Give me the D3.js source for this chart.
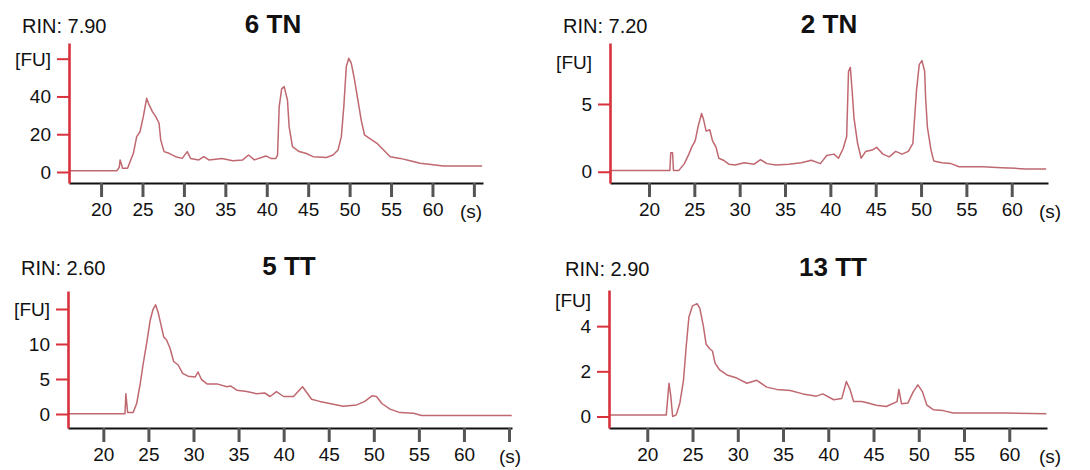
<!DOCTYPE html>
<html>
<head>
<meta charset="utf-8">
<script src="https://cdn.jsdelivr.net/npm/d3@7"></script>
<style>
  html, body { margin: 0; padding: 0; background: #fff; }
  svg { display: block; }
  text { font-family: "Liberation Sans", Arial, sans-serif; fill: #111; }
</style>
</head>
<body>
<svg id="chart" width="1090" height="470"></svg>
<script>
// ---------- DATA ----------
const sampleNames = ["6 TN", "2 TN", "5 TT", "13 TT"];
const rinLabels = ["RIN: 7.90", "RIN: 7.20", "RIN: 2.60", "RIN: 2.90"];
const xTickValues = [20, 25, 30, 35, 40, 45, 50, 55, 60, 65];

const tn6Time = [16.1, 21.9, 22.2, 22.3, 22.6, 23.2, 23.9, 24.3, 24.7, 25.1, 25.5, 25.8, 26.2, 26.6, 27.0, 27.2, 27.6, 28.2, 29.0, 29.8, 30.4, 30.8, 31.8, 32.4, 33.0, 34.6, 35.9, 37.1, 37.8, 38.5, 39.9, 40.5, 41.1, 41.3, 41.5, 41.8, 42.1, 42.5, 42.7, 43.1, 43.9, 44.7, 45.6, 47.2, 48.0, 48.6, 49.0, 49.3, 49.6, 49.9, 50.2, 50.6, 51.0, 51.4, 51.8, 52.4, 53.3, 54.1, 54.9, 56.1, 57.3, 58.5, 60.1, 61.3, 66.0];
const tn6FU   = [0.6, 0.6, 2.5, 6.4, 2.0, 2.0, 9.9, 18.7, 21.3, 29.3, 39.0, 35.5, 32.0, 29.3, 25.8, 17.0, 10.8, 9.9, 8.1, 7.2, 10.8, 7.2, 6.4, 8.1, 6.4, 7.2, 6.0, 6.4, 9.0, 6.4, 8.5, 7.2, 7.2, 8.9, 34.6, 44.0, 45.2, 38.0, 24.0, 13.4, 10.8, 9.9, 8.1, 7.7, 9.0, 11.6, 18.7, 34.6, 55.8, 60.2, 57.6, 48.7, 38.0, 27.5, 19.6, 17.8, 15.2, 11.6, 8.1, 7.2, 6.0, 4.6, 3.8, 3.2, 3.2];
const tn6YTicks = [0, 20, 40, 60];
const tn6YLabels = ["0", "20", "40", ""];

const tn2Time = [15.7, 22.3, 22.4, 22.6, 22.7, 23.3, 23.9, 24.4, 24.7, 25.1, 25.4, 25.8, 26.0, 26.3, 26.7, 27.0, 27.4, 27.7, 28.2, 28.8, 29.5, 30.5, 31.6, 32.3, 33.0, 34.0, 35.4, 36.8, 37.9, 38.9, 39.6, 40.4, 40.9, 41.4, 41.8, 42.0, 42.2, 42.4, 42.6, 43.0, 43.4, 43.9, 44.6, 45.1, 45.8, 46.5, 47.2, 47.9, 48.6, 49.1, 49.5, 49.8, 50.1, 50.4, 50.5, 50.7, 51.1, 51.4, 52.3, 53.3, 54.2, 56.8, 58.9, 60.4, 61.6, 63.8];
const tn2FU   = [0.1, 0.1, 1.4, 1.4, 0.1, 0.1, 0.6, 1.3, 1.8, 2.3, 3.3, 4.3, 3.9, 3.0, 3.1, 2.3, 1.8, 1.0, 0.85, 0.56, 0.5, 0.66, 0.56, 0.9, 0.6, 0.5, 0.56, 0.66, 0.85, 0.6, 1.2, 1.3, 1.0, 1.7, 2.6, 7.4, 7.7, 6.0, 4.0, 2.1, 1.0, 1.5, 1.6, 1.8, 1.3, 1.1, 1.5, 1.3, 1.5, 2.1, 6.0, 7.9, 8.2, 7.4, 5.5, 3.3, 1.6, 0.8, 0.66, 0.6, 0.37, 0.37, 0.3, 0.25, 0.2, 0.2];
const tn2YTicks = [0, 5];
const tn2YLabels = ["0", "5"];

const tt5Time = [16.1, 22.4, 22.5, 22.7, 23.3, 23.7, 24.1, 24.4, 24.8, 25.2, 25.5, 25.8, 26.1, 26.4, 26.7, 27.0, 27.4, 27.8, 28.3, 28.8, 29.4, 30.2, 30.5, 30.9, 31.5, 32.6, 33.7, 34.1, 34.8, 35.9, 37.0, 37.9, 38.5, 39.2, 40.0, 41.1, 41.6, 42.1, 42.6, 43.1, 44.0, 45.1, 46.6, 48.1, 49.0, 49.8, 50.3, 50.9, 51.8, 52.9, 54.4, 55.3, 65.3];
const tt5FU   = [0.05, 0.05, 2.9, 0.2, 0.2, 1.5, 4.4, 7.0, 10.1, 13.4, 14.9, 15.6, 14.4, 12.7, 11.0, 10.6, 9.4, 7.5, 7.0, 5.8, 5.4, 5.3, 6.0, 4.9, 4.3, 4.3, 3.9, 4.0, 3.4, 3.2, 2.9, 3.0, 2.5, 3.2, 2.5, 2.5, 3.2, 3.9, 3.0, 2.1, 1.8, 1.5, 1.1, 1.3, 1.8, 2.6, 2.5, 1.5, 0.7, 0.2, 0.1, -0.2, -0.2];
const tt5YTicks = [0, 5, 10, 15];
const tt5YLabels = ["0", "5", "10", ""];

const tt13Time = [15.8, 22.1, 22.4, 22.6, 22.8, 23.2, 23.6, 24.0, 24.3, 24.6, 25.0, 25.5, 25.8, 26.2, 26.5, 26.9, 27.2, 27.5, 28.0, 28.8, 29.9, 31.0, 32.1, 33.2, 34.3, 35.8, 37.2, 38.7, 39.4, 40.6, 41.5, 42.0, 42.4, 42.8, 43.7, 44.4, 45.3, 46.4, 47.6, 47.8, 48.1, 48.8, 49.4, 49.9, 50.4, 50.9, 51.6, 52.7, 53.8, 56.0, 59.7, 64.1];
const tt13FU   = [0.07, 0.07, 1.47, 0.9, 0.0, 0.07, 0.6, 1.6, 3.1, 4.4, 4.9, 5.0, 4.8, 4.0, 3.2, 3.0, 2.9, 2.35, 2.06, 1.84, 1.7, 1.47, 1.6, 1.3, 1.2, 1.15, 1.0, 0.9, 1.0, 0.74, 0.8, 1.55, 1.2, 0.66, 0.66, 0.6, 0.5, 0.44, 0.66, 1.2, 0.56, 0.6, 1.1, 1.4, 1.1, 0.5, 0.3, 0.26, 0.15, 0.15, 0.15, 0.12];
const tt13YTicks = [0, 2, 4];
const tt13YLabels = ["0", "2", "4"];

const seriesTime = [tn6Time, tn2Time, tt5Time, tt13Time];
const seriesFU = [tn6FU, tn2FU, tt5FU, tt13FU];
const yTicksAll = [tn6YTicks, tn2YTicks, tt5YTicks, tt13YTicks];
const yLabelsAll = [tn6YLabels, tn2YLabels, tt5YLabels, tt13YLabels];

// ---------- LAYOUT ----------
const layouts = [
  { left: 69,  right: 483,  top: 43,  bottom: 183, xd: [16.13, 66.1], yd: [-5.83, 68.3], rinX: 22,  rinY: 33,  titleX: 273, fuY: 59,  sX: 471 },
  { left: 610, right: 1048, top: 43,  bottom: 183, xd: [15.7, 64.0],  yd: [-0.83, 9.5],  rinX: 563, rinY: 33,  titleX: 829, fuY: 62,  sX: 1050 },
  { left: 68,  right: 512,  top: 291, bottom: 428, xd: [16.08, 65.33], yd: [-2.0, 17.57], rinX: 21,  rinY: 275, titleX: 289, fuY: 309, sX: 510 },
  { left: 609, right: 1047, top: 290, bottom: 428, xd: [15.77, 64.17], yd: [-0.51, 5.6], rinX: 565, rinY: 276, titleX: 833, fuY: 300, sX: 1050 }
];

const svg = d3.select("#chart");

layouts.forEach((L, i) => {
  const g = svg.append("g");
  const x = d3.scaleLinear().domain(L.xd).range([L.left, L.right]);
  const y = d3.scaleLinear().domain(L.yd).range([L.bottom, L.top]);

  // titles
  g.append("text").attr("x", L.rinX).attr("y", L.rinY)
    .attr("font-size", 20).text(rinLabels[i]);
  g.append("text").attr("x", L.titleX).attr("y", L.rinY)
    .attr("font-size", 26).attr("font-weight", "bold")
    .attr("text-anchor", "middle").text(sampleNames[i]);
  g.append("text").attr("x", L.left - 18).attr("y", L.fuY).attr("dy", "0.35em")
    .attr("font-size", 19).attr("text-anchor", "end").text("[FU]");

  // data line
  const pts = seriesTime[i].map((t, k) => [t, seriesFU[i][k]]);
  const line = d3.line().x(d => x(d[0])).y(d => y(d[1]));
  g.append("path").datum(pts)
    .attr("d", line)
    .attr("fill", "none")
    .attr("stroke", "#c06870")
    .attr("stroke-width", 1.5)
    .attr("stroke-linejoin", "round");

  // x axis
  const xTicks = xTickValues.filter(v => v >= L.xd[0] && v <= L.xd[1]);
  const xAxis = d3.axisBottom(x).tickValues(xTicks)
    .tickSize(14).tickSizeOuter(0)
    .tickFormat(v => v === 65 ? "" : String(v));
  const gx = g.append("g").attr("transform", `translate(0,${L.bottom})`).call(xAxis);
  gx.select(".domain").attr("stroke", "#111").attr("stroke-width", 2.2);
  gx.selectAll(".tick line").attr("stroke", "#555").attr("stroke-width", 3);
  gx.selectAll(".tick text").attr("font-size", 19).attr("fill", "#111")
    .attr("y", 20).attr("dy", "0.71em")
    .attr("font-family", "Liberation Sans, Arial, sans-serif");
  g.append("text").attr("x", L.sX).attr("y", L.bottom + 28).attr("dy", "0.35em")
    .attr("font-size", 19).attr("text-anchor", "middle").text("(s)");

  // y axis (red)
  const yAxis = d3.axisLeft(y).tickValues(yTicksAll[i])
    .tickSize(12).tickSizeOuter(0)
    .tickFormat((v, k) => yLabelsAll[i][k]);
  const gy = g.append("g").attr("transform", `translate(${L.left},0)`).call(yAxis);
  gy.select(".domain").attr("stroke", "#d8323c").attr("stroke-width", 2.6);
  gy.selectAll(".tick line").attr("stroke", "#d8323c").attr("stroke-width", 2);
  gy.selectAll(".tick text").attr("font-size", 19).attr("fill", "#111")
    .attr("x", -18)
    .attr("font-family", "Liberation Sans, Arial, sans-serif");
});
</script>
</body>
</html>
